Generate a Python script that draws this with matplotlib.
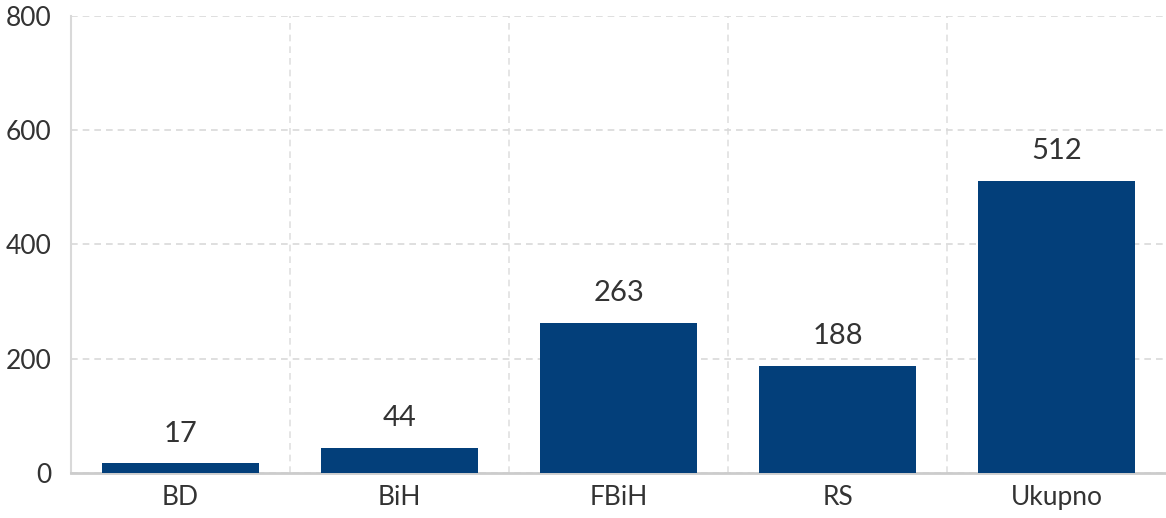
import matplotlib.pyplot as plt

categories = ["BD", "BiH", "FBiH", "RS", "Ukupno"]
values = [17, 44, 263, 188, 512]
y_ticks = [0, 200, 400, 600, 800]

plt.rcParams['font.family'] = ['Lato', 'DejaVu Sans']

fig = plt.figure(figsize=(11.66, 5.18), dpi=100)
ax = fig.add_axes([0.061, 0.087, 0.939, 0.882])

x = list(range(len(categories)))
bars = ax.bar(x, values, width=0.72, color='#033f7a', zorder=3)

for xi, v in zip(x, values):
    ax.annotate(str(v), (xi, v), xytext=(0, 12), textcoords='offset points',
                ha='center', va='bottom', fontsize=21, color='#333333')

ax.set_xlim(-0.5, 4.5)
ax.set_ylim(0, 800)
ax.set_yticks(y_ticks)
ax.set_xticks(x)
ax.set_xticklabels(categories)
ax.tick_params(axis='both', length=0, labelsize=19, colors='#333333')
ax.tick_params(axis='y', pad=14)
ax.tick_params(axis='x', pad=9)

# horizontal grid
ax.yaxis.grid(True, color='#d9d9d9', linestyle=(0, (4, 3)), linewidth=1.2, zorder=0)
# vertical separators between categories
for b in [0.5, 1.5, 2.5, 3.5]:
    ax.axvline(b, color='#e0e0e0', linestyle=(0, (4, 3)), linewidth=1.2, zorder=0)

for s in ['top', 'right']:
    ax.spines[s].set_visible(False)
ax.spines['left'].set_color('#d9d9d9')
ax.spines['left'].set_linewidth(1.5)
ax.spines['bottom'].set_color('#cccccc')
ax.spines['bottom'].set_linewidth(2)

fig.savefig('out.png', dpi=100)
